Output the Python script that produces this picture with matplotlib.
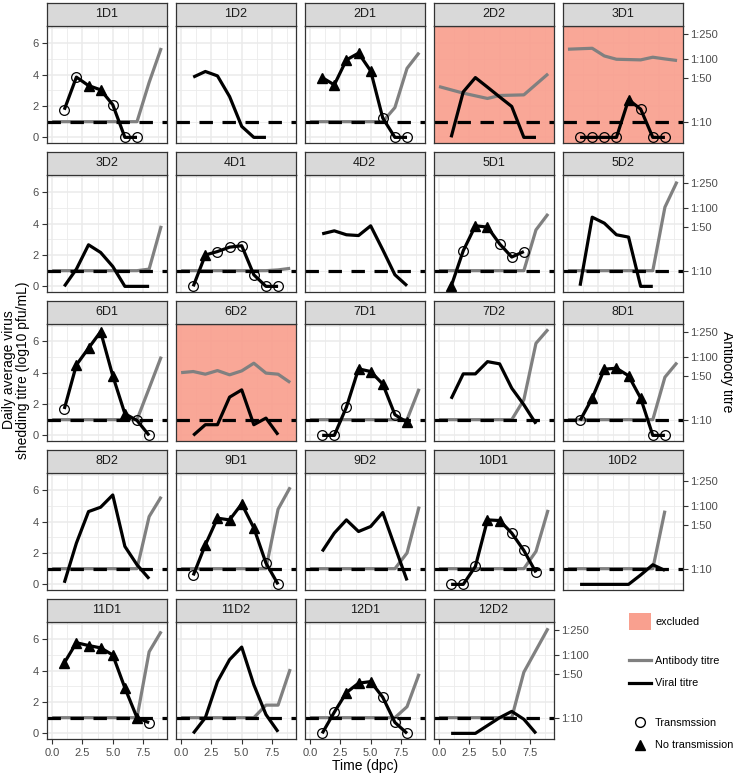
import matplotlib
matplotlib.use("Agg")
import matplotlib.pyplot as plt
from matplotlib.lines import Line2D
from matplotlib.patches import Patch, Rectangle
import numpy as np

plt.rcParams['font.family'] = ['Liberation Sans', 'DejaVu Sans']

# ---------------- data ----------------
panel_names = ["1D1", "1D2", "2D1", "2D2", "3D1",
               "3D2", "4D1", "4D2", "5D1", "5D2",
               "6D1", "6D2", "7D1", "7D2", "8D1",
               "8D2", "9D1", "9D2", "10D1", "10D2",
               "11D1", "11D2", "12D1", "12D2"]
excluded_panels = ["2D2", "3D1", "6D2"]

viral_days = [1, 2, 3, 4, 5, 6, 7, 8]
ab_days = [0, 1, 2, 3, 4, 5, 6, 7, 8, 9]

# viral titre (log10 pfu/mL); transmission outcome: C = transmission, T = no transmission, - = none
vir_1D1 = [1.76, 3.84, 3.30, 3.03, 2.08, 0.0, 0.0]
trn_1D1 = "CCTTCCC"
ab_1D1 = [1, 1, 1, 1, 1, 1, 1, 1, 3.5, 5.7]

vir_1D2 = [3.84, 4.20, 3.92, 2.60, 0.70, 0.0, 0.0]
trn_1D2 = "-------"
ab_1D2 = []

vir_2D1 = [3.81, 3.35, 4.94, 5.37, 4.24, 1.23, 0.0, 0.0]
trn_2D1 = "TTTTTCCC"
ab_2D1 = [1, 1, 1, 1, 1, 1, 1, 1.9, 4.4, 5.4]

vir_2D2 = [0.0, 2.90, 3.81, 3.20, 2.58, 1.97, 0.0, 0.0]
trn_2D2 = "--------"
ab_2D2 = [3.24, 3.03, 2.82, 2.65, 2.48, 2.67, 2.69, 2.71, 3.38, 4.05]

vir_3D1 = [0.0, 0.0, 0.0, 0.0, 2.40, 1.80, 0.0, 0.0]
trn_3D1 = "CCCCTCCC"
ab_3D1 = [5.62, 5.65, 5.68, 5.19, 4.98, 4.96, 4.94, 5.11, 5.00, 4.90]

vir_3D2 = [0.0, 1.10, 2.65, 2.16, 1.27, 0.0, 0.0, 0.0]
trn_3D2 = "--------"
ab_3D2 = [1, 1, 1, 1, 1, 1, 1, 1, 1.1, 3.86]

vir_4D1 = [0.0, 2.0, 2.22, 2.50, 2.59, 0.74, 0.0, 0.0]
trn_4D1 = "CTCCCCCC"
ab_4D1 = [1, 1, 1, 1, 1, 1, 1, 1, 1.05, 1.15]

vir_4D2 = [3.35, 3.54, 3.29, 3.24, 3.86, 2.33, 0.74, 0.04]
trn_4D2 = "--------"
ab_4D2 = []

vir_5D1 = [0.0, 2.27, 3.86, 3.78, 2.71, 1.87, 2.22]
trn_5D1 = "TCTTCCC"
ab_5D1 = [1, 1, 1, 1, 1, 1, 1, 1, 3.6, 4.62]

vir_5D2 = [0.04, 4.41, 4.03, 3.29, 3.14, 0.0, 0.0]
trn_5D2 = "-------"
ab_5D2 = [1, 1, 1, 1, 1, 1, 1, 1, 5.05, 6.68]

vir_6D1 = [1.68, 4.49, 5.56, 6.61, 3.80, 1.38, 0.95, 0.0]
trn_6D1 = "CTTTTTCC"
ab_6D1 = [1, 1, 1, 1, 1, 1, 1, 1, 3.0, 5.02]

vir_6D2 = [0.0, 0.68, 0.68, 2.44, 2.90, 0.68, 1.10, 0.04]
trn_6D2 = "--------"
ab_6D2 = [4.0, 4.07, 3.90, 4.13, 3.86, 4.11, 4.60, 3.97, 3.90, 3.37]

vir_7D1 = [0.0, 0.0, 1.80, 4.24, 4.07, 3.27, 1.32, 0.83]
trn_7D1 = "CCCTTTCT"
ab_7D1 = [1, 1, 1, 1, 1, 1, 1, 1, 1, 2.97]

vir_7D2 = [2.33, 3.92, 3.92, 4.70, 4.56, 3.01, 1.95, 0.74]
trn_7D2 = "--------"
ab_7D2 = [1, 1, 1, 1, 1, 1, 1, 2.27, 5.87, 6.76]

vir_8D1 = [0.95, 2.37, 4.22, 4.28, 3.80, 2.37, 0.0, 0.0]
trn_8D1 = "CTTTTTCC"
ab_8D1 = [1, 1, 1, 1, 1, 1, 1, 1, 3.71, 4.64]

vir_8D2 = [0.10, 2.63, 4.64, 4.92, 5.70, 2.42, 1.25, 0.36]
trn_8D2 = "--------"
ab_8D2 = [1, 1, 1, 1, 1, 1, 1, 1, 4.32, 5.59]

vir_9D1 = [0.57, 2.52, 4.22, 4.11, 5.13, 3.60, 1.36, 0.0]
trn_9D1 = "CTTTTTCC"
ab_9D1 = [1, 1, 1, 1, 1, 1, 1, 1, 4.79, 6.19]

vir_9D2 = [2.10, 3.27, 4.11, 3.37, 3.69, 4.58, 2.40, 0.25]
trn_9D2 = "--------"
ab_9D2 = [1, 1, 1, 1, 1, 1, 1, 1, 2.0, 4.96]

vir_10D1 = [0.0, 0.0, 1.14, 4.11, 4.07, 3.27, 2.16, 0.76]
trn_10D1 = "CCCTTCCC"
ab_10D1 = [1, 1, 1, 1, 1, 1, 1, 1, 2.1, 4.75]

vir_10D2 = [0.0, 0.0, 0.0, 0.0, 0.0, 0.6, 1.25, 0.89]
trn_10D2 = "--------"
ab_10D2 = [1, 1, 1, 1, 1, 1, 1, 1, 4.7]

vir_11D1 = [4.49, 5.78, 5.60, 5.45, 5.0, 2.90, 1.0, 0.68]
trn_11D1 = "TTTTTTTC"
ab_11D1 = [1, 1, 1, 1, 1, 1, 1, 1, 5.2, 6.5]

vir_11D2 = [0.0, 1.0, 3.30, 4.70, 5.50, 3.10, 1.20, 0.10]
trn_11D2 = "--------"
ab_11D2 = [1, 1, 1, 1, 1, 1, 1, 1.8, 1.8, 4.1]

vir_12D1 = [0.0, 1.35, 2.60, 3.20, 3.30, 2.30, 0.70, 0.0]
trn_12D1 = "CCTTTCCC"
ab_12D1 = [1, 1, 1, 1, 1, 1, 1, 1, 1.7, 3.8]

vir_12D2 = [0.0, 0.0, 0.0, 0.5, 1.0, 1.4, 0.9, 0.0]
trn_12D2 = "--------"
ab_12D2 = [1, 1, 1, 1, 1, 1, 1, 3.9, 5.3, 6.7]

right_titres = [10, 50, 100, 250]
right_labels = ["1:10", "1:50", "1:100", "1:250"]
left_ticks = [0, 2, 4, 6]
x_ticks = [0.0, 2.5, 5.0, 7.5]
x_ticklabels = ["0.0", "2.5", "5.0", "7.5"]
threshold = 1.0

g = globals()
table = {n: (g["vir_" + n], g["trn_" + n], g["ab_" + n]) for n in panel_names}


def titre_to_y(t):
    return 4 * np.log10(t) - 3


# ---------------- layout ----------------
W, H = 733, 776
fig = plt.figure(figsize=(W / 100, H / 100), dpi=100)

COL_L = [46.7 + 128.95 * c for c in range(5)]
PW = 120.0
PH = 116.7
ROW_T = [26 + 149 * r for r in range(5)]
STRIP_H = 23.5

EDGE = "#333333"
GRID = "#EBEBEB"
SALMON = "#F9A08F"
LW = 2.3


def fr(left, top, w, h):
    return [left / W, 1 - (top + h) / H, w / W, h / H]


for i, name in enumerate(panel_names):
    r, c = divmod(i, 5)
    vir, trn, ab = table[name]
    ax = fig.add_axes(fr(COL_L[c], ROW_T[r], PW, PH))
    ax.set_xlim(-0.45, 9.45)
    ax.set_ylim(-0.34, 7.1)
    ax.set_xticks(x_ticks)
    ax.set_xticks([1.25, 3.75, 6.25, 8.75], minor=True)
    ax.set_yticks(left_ticks)
    ax.set_yticks([1, 3, 5, 7], minor=True)
    ax.grid(True, which="major", color=GRID, lw=1.1, zorder=0)
    ax.grid(True, which="minor", color=GRID, lw=0.6, zorder=0)
    ax.set_axisbelow(True)
    for s in ax.spines.values():
        s.set_color(EDGE)
        s.set_linewidth(0.9)
        s.set_zorder(10)
    if name in excluded_panels:
        ax.add_patch(Rectangle((0, 0), 1, 1, transform=ax.transAxes,
                               facecolor=SALMON, alpha=0.93, edgecolor="none", zorder=1))
    if len(ab):
        ax.plot(ab_days[:len(ab)], ab, color="#808080", lw=LW, zorder=2,
                solid_capstyle="butt", solid_joinstyle="round")
    ax.axhline(threshold, color="black", lw=LW, ls=(0, (4.2, 3.0)), zorder=3)
    ax.plot(viral_days[:len(vir)], vir, color="black", lw=LW, zorder=4,
            solid_capstyle="butt", solid_joinstyle="round")
    for d, v, m in zip(viral_days, vir, trn):
        if m == "C":
            ax.plot(d, v, marker="o", ms=7, mfc="none", mec="black", mew=0.9, zorder=5)
        elif m == "T":
            ax.plot(d, v, marker="^", ms=7.5, mfc="black", mec="black", zorder=5)

    ax.tick_params(which="both", length=0)
    ax.tick_params(which="major", color=EDGE, labelcolor="#4D4D4D", labelsize=8)
    if c == 0:
        ax.tick_params(axis="y", which="major", length=3.5, left=True, labelleft=True, pad=2)
    else:
        ax.tick_params(axis="y", labelleft=False)
    if r == 4:
        ax.tick_params(axis="x", which="major", length=3.5, bottom=True, labelbottom=True, pad=3.5)
        ax.set_xticklabels(x_ticklabels)
    else:
        ax.tick_params(axis="x", labelbottom=False)
    if c == 4 or name == panel_names[-1]:
        sec = ax.secondary_yaxis("right")
        sec.set_yticks([titre_to_y(t) for t in right_titres])
        sec.set_yticklabels(right_labels)
        sec.tick_params(length=3.5, color=EDGE, labelcolor="#4D4D4D", labelsize=8, pad=2)
        sec.spines["right"].set_visible(False)

    # strip
    sax = fig.add_axes(fr(COL_L[c], ROW_T[r] - STRIP_H, PW, STRIP_H))
    sax.set_xticks([])
    sax.set_yticks([])
    sax.set_facecolor("#D9D9D9")
    for s in sax.spines.values():
        s.set_color(EDGE)
        s.set_linewidth(0.9)
    sax.text(0.5, 0.5, name, ha="center", va="center", fontsize=9, color="#1A1A1A",
             transform=sax.transAxes)

# axis titles
fig.text(16 / W, 1 - 370 / H, "Daily average virus\nshedding titre (log10 pfu/mL)",
         rotation=90, ha="center", va="center", fontsize=10, color="black",
         multialignment="center", linespacing=1.0)
fig.text(727 / W, 1 - 372 / H, "Antibody titre", rotation=-90, ha="center", va="center",
         fontsize=10, color="black")
fig.text(365 / W, 1 - 766 / H, "Time (dpc)", ha="center", va="center", fontsize=10,
         color="black")

# legends
LFS = 7.8
common = dict(loc="upper left", frameon=False, fontsize=LFS, handlelength=2.0,
              handletextpad=0.4, borderpad=0.0, borderaxespad=0)
leg1 = fig.legend(handles=[Patch(facecolor=SALMON, edgecolor="none", label="excluded")],
                  bbox_to_anchor=(629 / W, 1 - 613 / H), handleheight=2.0, **common)
leg2 = fig.legend(handles=[Line2D([], [], color="#808080", lw=LW, label="Antibody titre"),
                           Line2D([], [], color="black", lw=LW, label="Viral titre")],
                  bbox_to_anchor=(629 / W, 1 - 656 / H), labelspacing=1.15, **common)
leg3 = fig.legend(handles=[Line2D([], [], ls="none", marker="o", ms=7, mfc="none", mec="black",
                                  label="Transmssion"),
                           Line2D([], [], ls="none", marker="^", ms=7.5, color="black",
                                  label="No transmission")],
                  bbox_to_anchor=(629 / W, 1 - 718 / H), labelspacing=1.15, **common)

fig.savefig("out.png", dpi=100)
